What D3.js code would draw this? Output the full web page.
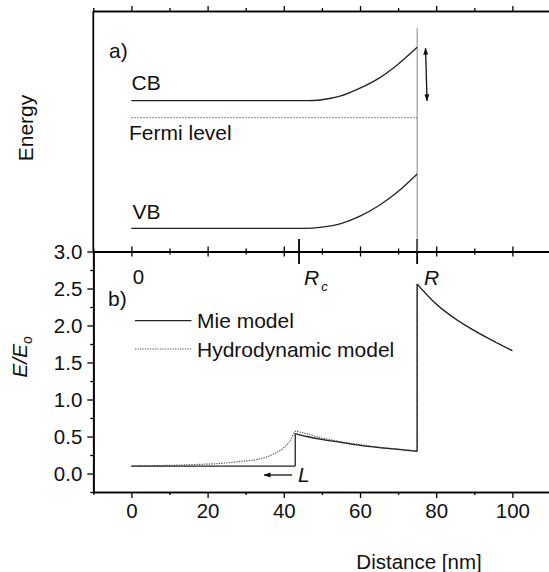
<!DOCTYPE html>
<html>
<head>
<meta charset="utf-8">
<script src="https://cdn.jsdelivr.net/npm/d3@7"></script>
<style>
  html, body { margin: 0; padding: 0; background: #fff; }
  svg { display: block; }
  text { font-family: "Liberation Sans", Arial, Helvetica, sans-serif; fill: #111; }
</style>
</head>
<body>
<svg id="chart" width="549" height="572"></svg>
<script>
// ---- band diagram (panel a), arbitrary energy units ----
const cbX = [0, 46, 50, 55, 60, 65, 70, 75];
const cbE = [6.27, 6.27, 6.31, 6.47, 6.79, 7.21, 7.79, 8.49];
const vbX = [0, 45.5, 50, 55, 60, 65, 70, 75];
const vbE = [0.96, 0.96, 1.01, 1.16, 1.47, 1.91, 2.49, 3.22];
const fermiX = [0, 75];
const fermiE = [5.56, 5.56];
const bendArrowX = [77.6, 77.2];
const bendArrowE = [6.27, 8.45];
const surfaceLineE = [0, 9.28];

// ---- field enhancement (panel b) ----
const mieX = [0, 43, 43, 46, 50, 55, 60, 65, 70, 75, 75, 80, 85, 90, 95, 100];
const mieY = [0.10, 0.10, 0.54, 0.50, 0.46, 0.42, 0.38, 0.35, 0.325, 0.30, 2.56, 2.29, 2.09, 1.93, 1.79, 1.66];
const hydroX = [0, 10, 16, 23, 28, 33, 37, 40, 42, 43, 45, 50, 55, 60, 65, 70, 75, 75, 80, 85, 90, 95, 100];
const hydroY = [0.10, 0.11, 0.12, 0.135, 0.16, 0.19, 0.255, 0.35, 0.47, 0.57, 0.55, 0.48, 0.43, 0.39, 0.355, 0.33, 0.305, 2.56, 2.29, 2.09, 1.93, 1.79, 1.66];

// ---- radii and axes ----
const coreRadius = 44;    // R_c
const shellRadius = 75;   // R
const stepX = 43;         // end of core plateau (L arrow)
const xMajor = [0, 20, 40, 60, 80, 100];
const xMinor = [-10, 10, 30, 50, 70, 90, 110];
const yMajor = [0.0, 0.5, 1.0, 1.5, 2.0, 2.5, 3.0];
const yMinor = [-0.25, 0.25, 0.75, 1.25, 1.75, 2.25, 2.75];

const svg = d3.select("#chart");
svg.append("rect").attr("width", 549).attr("height", 572).attr("fill", "#fff");

const x = d3.scaleLinear().domain([-10, 110]).range([93.3, 550.5]);
const yB = d3.scaleLinear().domain([-0.25, 3.0]).range([492, 251.5]);
const yE = d3.scaleLinear().domain([0, 10]).range([251.5, 11]);

const FS = 20.5;   // tick labels
const LS = 21;     // annotation labels
const axisW = 1.7;

// Draws a series, splitting at vertical steps (repeated x) so steps stay straight.
function drawSeries(xs, ys, yScale, attrs) {
  const pts = xs.map((v, i) => [v, ys[i]]);
  const pieces = [];
  let cur = [pts[0]];
  for (let i = 1; i < pts.length; i++) {
    const p = pts[i], last = cur[cur.length - 1];
    if (p[0] === last[0]) {
      if (cur.length > 1) pieces.push({ pts: cur, curve: d3.curveMonotoneX });
      pieces.push({ pts: [last, p], curve: d3.curveLinear });
      cur = [p];
    } else cur.push(p);
  }
  if (cur.length > 1) pieces.push({ pts: cur, curve: d3.curveMonotoneX });
  const g = svg.append("g");
  pieces.forEach(pc => {
    const line = d3.line().x(d => x(d[0])).y(d => yScale(d[1])).curve(pc.curve);
    const path = g.append("path").attr("d", line(pc.pts)).attr("fill", "none");
    Object.entries(attrs).forEach(([k, v]) => path.attr(k, v));
  });
}

function styleAxis(g, labelled) {
  g.select(".domain").attr("stroke", "#000").attr("stroke-width", axisW);
  g.selectAll(".tick line").attr("stroke", "#000").attr("stroke-width", 1.3);
  if (labelled) g.selectAll(".tick text").attr("font-size", FS)
    .attr("font-family", '"Liberation Sans", Arial, sans-serif').attr("fill", "#111");
}

// ---- bottom panel axes ----
const gxB = svg.append("g").attr("transform", `translate(0,${yB(-0.25)})`)
  .call(d3.axisBottom(x).tickValues(xMajor).tickSize(6).tickSizeOuter(0).tickPadding(5.5).tickFormat(d3.format("d")));
styleAxis(gxB, true);
const gxBm = svg.append("g").attr("transform", `translate(0,${yB(-0.25)})`)
  .call(d3.axisBottom(x).tickValues(xMinor).tickSize(3).tickSizeOuter(0).tickFormat(""));
styleAxis(gxBm, false);

const gyB = svg.append("g").attr("transform", `translate(${x(-10)},0)`)
  .call(d3.axisLeft(yB).tickValues(yMajor).tickSize(6).tickSizeOuter(0).tickPadding(5).tickFormat(d3.format(".1f")));
styleAxis(gyB, true);
const gyBm = svg.append("g").attr("transform", `translate(${x(-10)},0)`)
  .call(d3.axisLeft(yB).tickValues(yMinor).tickSize(3).tickSizeOuter(0).tickFormat(""));
styleAxis(gyBm, false);

// shared line between panels: ticks cross both sides
[[d3.axisTop, xMajor, 5], [d3.axisBottom, xMajor, 5], [d3.axisTop, xMinor, 3], [d3.axisBottom, xMinor, 3]].forEach(([ax, vals, sz]) => {
  const g = svg.append("g").attr("transform", `translate(0,${yB(3.0)})`)
    .call(ax(x).tickValues(vals).tickSize(sz).tickSizeOuter(0).tickFormat(""));
  styleAxis(g, false);
});
// long marks at R_c and R
[coreRadius, shellRadius].forEach(r => {
  svg.append("line").attr("x1", x(r)).attr("x2", x(r))
    .attr("y1", yB(3.0) - 12.5).attr("y2", yB(3.0) + 12.5)
    .attr("stroke", "#000").attr("stroke-width", 1.8);
});

// ---- top panel frame ----
[[d3.axisTop, xMajor, 5], [d3.axisTop, xMinor, 3]].forEach(([ax, vals, sz]) => {
  const g = svg.append("g").attr("transform", `translate(0,${yE(10)})`)
    .call(ax(x).tickValues(vals).tickSize(sz).tickSizeOuter(0).tickFormat(""));
  styleAxis(g, false);
});
svg.append("line").attr("x1", x(-10)).attr("x2", x(-10))
  .attr("y1", yE(10)).attr("y2", yE(0)).attr("stroke", "#000").attr("stroke-width", axisW);

// ---- panel a content ----
svg.append("line").attr("x1", x(shellRadius)).attr("x2", x(shellRadius))
  .attr("y1", yE(surfaceLineE[1])).attr("y2", yE(surfaceLineE[0]))
  .attr("stroke", "#888").attr("stroke-width", 1);

drawSeries(cbX, cbE, yE, { stroke: "#222", "stroke-width": 1.3 });
drawSeries(vbX, vbE, yE, { stroke: "#222", "stroke-width": 1.3 });
drawSeries(fermiX, fermiE, yE, { stroke: "#333", "stroke-width": 1.1, "stroke-dasharray": "1.2,1.8" });

// band-bending double arrow
const defs = svg.append("defs");
defs.append("marker").attr("id", "head").attr("viewBox", "0 0 10 10")
  .attr("refX", 9).attr("refY", 5).attr("markerWidth", 7).attr("markerHeight", 7)
  .attr("markerUnits", "userSpaceOnUse").attr("orient", "auto-start-reverse")
  .append("path").attr("d", "M0,1.5 L10,5 L0,8.5 Z").attr("fill", "#111");
svg.append("line")
  .attr("x1", x(bendArrowX[0])).attr("y1", yE(bendArrowE[0]))
  .attr("x2", x(bendArrowX[1])).attr("y2", yE(bendArrowE[1]))
  .attr("stroke", "#111").attr("stroke-width", 1.3)
  .attr("marker-start", "url(#head)").attr("marker-end", "url(#head)");

svg.append("text").attr("x", 109).attr("y", 58).attr("font-size", LS).text("a)");
svg.append("text").attr("x", 131.5).attr("y", 90).attr("font-size", LS).text("CB");
svg.append("text").attr("x", 129).attr("y", 140).attr("font-size", LS).text("Fermi level");
svg.append("text").attr("x", 132.5).attr("y", 219).attr("font-size", LS).text("VB");

svg.append("text").attr("transform", "translate(33,128) rotate(-90)")
  .attr("text-anchor", "middle").attr("font-size", LS).text("Energy");

// radial markers
svg.append("text").attr("x", x(0) + 7).attr("y", 284).attr("text-anchor", "middle")
  .attr("font-size", FS).text("0");
const rc = svg.append("text").attr("x", 304).attr("y", 285).attr("font-size", LS).attr("font-style", "italic");
rc.append("tspan").text("R");
rc.append("tspan").attr("font-size", 13).attr("dx", 2).attr("dy", 6).text("c");
svg.append("text").attr("x", 424).attr("y", 285).attr("font-size", LS).attr("font-style", "italic").text("R");

// ---- panel b content ----
drawSeries(hydroX, hydroY, yB, { stroke: "#555", "stroke-width": 1.2, "stroke-dasharray": "1.3,1.2" });
drawSeries(mieX, mieY, yB, { stroke: "#222", "stroke-width": 1.3 });

svg.append("text").attr("x", 108).attr("y", 306).attr("font-size", LS).text("b)");

// legend
svg.append("line").attr("x1", 135).attr("x2", 191.5).attr("y1", 320.7).attr("y2", 320.7)
  .attr("stroke", "#222").attr("stroke-width", 1.3);
svg.append("text").attr("x", 197).attr("y", 328).attr("font-size", LS).text("Mie model");
svg.append("line").attr("x1", 135).attr("x2", 191.5).attr("y1", 349).attr("y2", 349)
  .attr("stroke", "#555").attr("stroke-width", 1.2).attr("stroke-dasharray", "1.3,1.2");
svg.append("text").attr("x", 197).attr("y", 356.5).attr("font-size", LS).text("Hydrodynamic model");

// L arrow pointing inward from the core step
svg.append("line").attr("x1", x(stepX) - 3).attr("x2", x(stepX) - 31)
  .attr("y1", 475).attr("y2", 475).attr("stroke", "#111").attr("stroke-width", 1.3)
  .attr("marker-end", "url(#head)");
svg.append("text").attr("x", 298).attr("y", 482).attr("font-size", LS).attr("font-style", "italic").text("L");

// axis titles
const yt = svg.append("text").attr("transform", "translate(27,357) rotate(-90)")
  .attr("text-anchor", "middle").attr("font-size", LS).attr("font-style", "italic");
yt.append("tspan").text("E/E");
yt.append("tspan").attr("font-size", 14).attr("dy", 5).text("o");

svg.append("text").attr("x", 419).attr("y", 569).attr("text-anchor", "middle")
  .attr("font-size", 20.5).text("Distance [nm]");
</script>
</body>
</html>
